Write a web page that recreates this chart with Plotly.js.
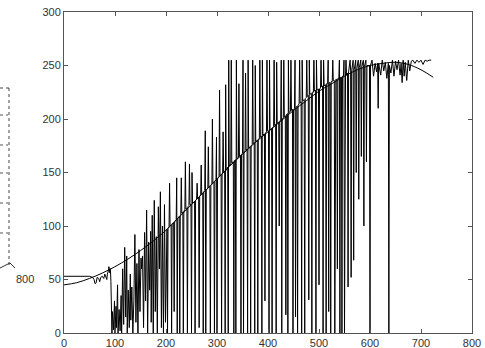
<!DOCTYPE html>
<html>
<head>
<meta charset="utf-8">
<script src="https://cdn.plot.ly/plotly-3.0.1.min.js"></script>
<style>html,body{margin:0;padding:0;background:#fff;}#chart{width:485px;height:348px;}</style>
</head>
<body>
<div id="chart"></div>
<script>
// Smooth fitted curve
const curveX = [0,25,50,75,100,125,150,175,200,225,250,275,300,325,350,375,400,425,450,475,500,525,550,575,600,625,650,675,700,724];
const curveY = [45,47,51,56,62,69,77,86,96,108,120,132,144,156,167,178,188,198,208,217,226,233,240,246,250,252,253,251,246,239];

// Noisy signal, read segment by segment
const segAx = [0,10,20,30,40,50,56,59,61,63,65,68,70,72,75,78,80,82,84,85,87,88,90,91,92];
const segAy = [53,53,53,53,53,53,52,50,46,47,52,51,48,52,53,51,55,53,50,55,58,62,56,60,48];

const segBx = [94,95,97,99,100,102,103,105,106,108,110,112,113,115,117,119,121,123,124,126,128,130,131,133,135,137,139,141,143,145,147,149,151,152,154,156,158,160,162,164,166,168,170,171,173,175,177,179,181,183,185,187,189,191,193,195,197,199];
const segBy = [0,20,3,30,0,25,5,45,0,22,2,35,0,60,8,80,15,72,0,40,5,55,12,43,0,30,92,10,65,0,78,20,70,60,72,5,94,30,115,0,85,40,95,10,110,0,124,20,90,0,118,60,132,5,100,0,120,10];

const segCx = [202,203,204,206,207,208,210,211,212,215,216,217,220,221,222,223,226,227,228,229,230,231,233,234,235,237,238,239,241,242,243,245,246,247,249,250,251,252,256,257,258,260,261,262,264,265,266,268,269,270,272,273,274,276,277,278,279,282,283,284,286,287,288,290,291,292,294,295,296,298,299,300,301,304,305,306,308,309,310,311,312,313,315,316,317,318];
const segCy = [97,0,98,99,140,100,101,0,102,103,20,104,106,145,0,107,109,0,110,111,145,112,113,0,114,115,160,116,117,0,118,119,158,120,120,0,150,121,123,0,124,125,140,126,127,5,128,129,157,130,131,0,132,133,189,0,134,135,174,136,137,0,138,139,200,140,141,0,142,143,183,0,144,146,227,147,148,0,149,149,188,150,151,0,232,152];

const segDx = [321,322,323,324, 327,328,329, 332,333,334, 336,337,338,339, 342,343,344, 346,347,348, 350,351,352,353, 355,356,357, 359,360,361,362, 365,366,367, 369,370,371, 373,374,375,376, 379,380,381, 383,384,385, 387,388,389,390, 393,394,395, 397,398,399, 401,402,403,404, 407,408,409, 411,412,413, 415,416,417,418, 421,422,423, 425,426,427,428, 430,431,432, 434,435,436, 438,439,440,441, 444,445,446, 448,449,450, 452,453,454,455, 457,458,459, 461,462,463, 465,466,467,468, 471,472,473, 475,476,477, 479,480,481,482, 485,486,487, 489,490,491, 493,494,495,496, 499,500,501, 503,504,505, 507,508,509,510, 513,514,515, 517,518,519,520, 522,523,524, 526,527,528, 530,531,532,533, 535,536,537, 539,540,541,542, 544,545,546, 548,549,550,551, 552,553,554];
const segDy = [155,0,255,156, 158,255,159, 160,0,161, 162,0,255,163, 164,233,165, 166,0,167, 168,255,0,169, 170,243,171, 172,0,255,173, 174,0,175, 176,255,177, 178,0,250,179, 180,0,181, 182,255,183, 184,0,255,185, 186,30,187, 188,255,189, 189,0,255,190, 191,0,192, 193,255,194, 195,0,253,196, 197,100,198, 199,255,0,200, 201,255,202, 203,17,204, 205,0,255,206, 207,255,208, 209,0,209, 210,255,15,211, 212,0,213, 214,255,215, 216,0,255,217, 218,0,219, 220,255,221, 222,31,255,223, 224,0,225, 225,255,226, 227,0,255,227, 228,45,228, 229,255,230, 231,0,255,231, 232,0,233, 233,255,20,234, 234,0,235, 235,255,236, 236,0,227,237, 237,60,238, 238,255,0,239, 239,0,240, 240,255,0,241, 241,255,241];

const segEx = [556,557,558,561,562,563,564,567,568,569,572,573,574,577,578,579,582,583,584,587,588,589,592,593,594,599,600,601,604,607,610,613,615,616,617,621,624,627,630,633,636,637,638,641,644,647,650,653,656,659,661,663,665,667,669,672,675,678,681,684,688,692,696,700,704,708,712,716,720];
const segEy = [243,43,244,255,245,52,245,255,68,246,255,150,247,255,125,248,255,165,249,255,100,249,255,160,250,250,0,250,255,240,252,244,252,210,252,241,255,245,253,238,252,0,250,243,255,240,254,246,255,241,252,234,255,240,253,236,255,245,254,255,252,255,253,255,251,255,254,255,255];

const xTicks = [0,100,200,300,400,500,600,700,800];
const yTicks = [0,50,100,150,200,250,300];

const sigX = [].concat(segAx, segBx, segCx, segDx, segEx);
const sigY = [].concat(segAy, segBy, segCy, segDy, segEy);

const axisCol = '#555555';
const textCol = '#333333';

const traces = [
  {x: sigX, y: sigY, type: 'scatter', mode: 'lines', line: {color: '#000000', width: 1}, hoverinfo: 'skip'},
  {x: curveX, y: curveY, type: 'scatter', mode: 'lines', line: {color: '#000000', width: 1, shape: 'spline'}, hoverinfo: 'skip'}
];

const L = 64, R = 472, T = 12, B = 333;
const px = v => (v - L) / (R - L);
const py = v => (B - v) / (B - T);

const shapes = [
  {type: 'line', xref: 'paper', yref: 'paper', x0: px(9), x1: px(9), y0: py(88), y1: py(266), line: {color: '#444', width: 1, dash: 'dot'}},
  {type: 'line', xref: 'paper', yref: 'paper', x0: px(0), x1: px(9), y0: py(88), y1: py(88), line: {color: '#444', width: 1, dash: 'dot'}}
];
[115,145,173,203,233].forEach(v => shapes.push({type: 'line', xref: 'paper', yref: 'paper', x0: px(0), x1: px(8), y0: py(v), y1: py(v), line: {color: '#555', width: 1, dash: 'dot'}}));
shapes.push({type: 'line', xref: 'paper', yref: 'paper', x0: px(0), x1: px(10), y0: py(268), y1: py(263), line: {color: '#333', width: 1}});
shapes.push({type: 'line', xref: 'paper', yref: 'paper', x0: px(10), x1: px(15), y0: py(263), y1: py(268), line: {color: '#333', width: 1}});

const layout = {
  width: 485, height: 348,
  margin: {l: L, r: 485 - R, t: T, b: 348 - B, pad: 0},
  paper_bgcolor: '#ffffff', plot_bgcolor: '#ffffff',
  showlegend: false,
  font: {family: 'Liberation Sans, Arial, sans-serif', size: 11, color: textCol},
  xaxis: {range: [0, 800], tickvals: xTicks, ticks: 'inside', ticklen: 4, tickcolor: axisCol,
          showline: true, linecolor: axisCol, linewidth: 1, mirror: 'ticks', showgrid: false, zeroline: false,
          tickfont: {size: 11, color: textCol}, fixedrange: true},
  yaxis: {range: [0, 300], tickvals: yTicks, ticks: 'inside', ticklen: 4, tickcolor: axisCol,
          showline: true, linecolor: axisCol, linewidth: 1, mirror: 'ticks', showgrid: false, zeroline: false,
          tickfont: {size: 11, color: textCol}, fixedrange: true},
  shapes: shapes,
  annotations: [
    {xref: 'paper', yref: 'paper', x: px(25), y: py(279), text: '800', showarrow: false, xanchor: 'center', yanchor: 'middle', font: {size: 11, color: textCol}}
  ]
};

Plotly.newPlot('chart', traces, layout, {displayModeBar: false, staticPlot: true});
</script>
</body>
</html>
